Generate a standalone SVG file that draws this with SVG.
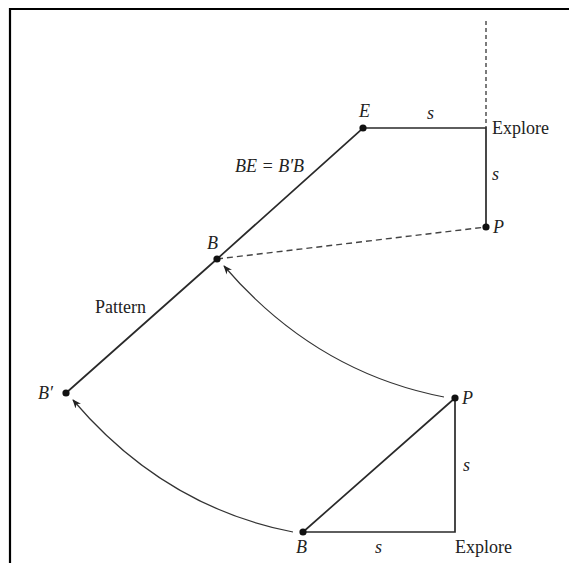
<svg xmlns="http://www.w3.org/2000/svg" width="569" height="563" viewBox="0 0 569 563">
<defs>
<style>
.ln{stroke:#2a2a2a;stroke-width:1.7;fill:none}
.ds{stroke:#444;stroke-width:1.4;fill:none;stroke-dasharray:6 4}
.cv{stroke:#333;stroke-width:1.2;fill:none;marker-end:url(#ah)}
.dot{fill:#111}
text{font-family:"Liberation Serif","Times New Roman",serif;font-size:18px;fill:#222}
.it{font-style:italic}
</style>
<marker id="ah" viewBox="0 0 10 10" refX="9" refY="5" markerWidth="9" markerHeight="9" markerUnits="userSpaceOnUse" orient="auto">
<path d="M0,1 L10,5 L0,9 L3,5 Z" fill="#222"/>
</marker>
</defs>
<rect x="0" y="0" width="569" height="563" fill="#fff"/>
<path d="M10,563 L10,9 L569,9" fill="none" stroke="#000" stroke-width="2.2"/>
<g id="connectors">
<line class="ds" x1="486" y1="21" x2="486" y2="128" style="stroke-dasharray:4 3"/>
<polyline class="ln" points="66,393 217,259 363,128 486,128 486,227"/>
<line class="ds" x1="217" y1="259" x2="486" y2="227"/>
<polyline class="ln" points="455,398 303,532 455,532 455,398"/>
<path class="cv" d="M444,397 Q315,372 224,266"/>
<path class="cv" d="M293,532 Q164,507 73,400"/>
</g>
<g id="E"><circle class="dot" cx="363" cy="128" r="3.6"/><text class="it" x="359" y="117">E</text></g>
<g id="Ptop"><circle class="dot" cx="486" cy="227" r="3.6"/><text class="it" x="493" y="233">P</text></g>
<g id="Btop"><circle class="dot" cx="217" cy="259" r="3.6"/><text class="it" x="207" y="249">B</text></g>
<g id="Bprime"><circle class="dot" cx="66" cy="393" r="3.6"/><text class="it" x="38" y="399">B′</text></g>
<g id="Pbot"><circle class="dot" cx="455" cy="398" r="3.6"/><text class="it" x="462" y="404">P</text></g>
<g id="Bbot"><circle class="dot" cx="303" cy="532" r="3.6"/><text class="it" x="296" y="553">B</text></g>
<g id="labels">
<text class="it" x="427" y="119">s</text>
<text x="492" y="134">Explore</text>
<text class="it" x="492" y="180">s</text>
<text class="it" x="235" y="172">BE = B′B</text>
<text x="95" y="313">Pattern</text>
<text class="it" x="463" y="471">s</text>
<text class="it" x="375" y="553">s</text>
<text x="455" y="553">Explore</text>
</g>
</svg>
